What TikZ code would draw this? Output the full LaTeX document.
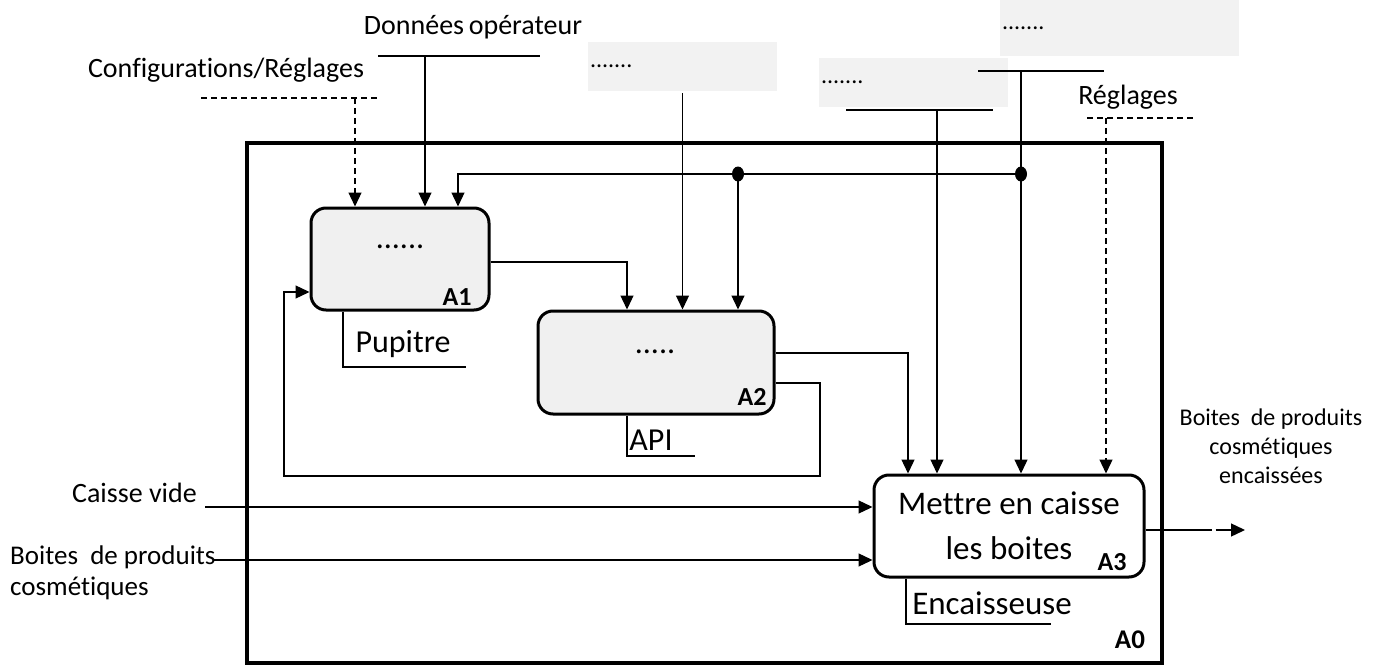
\documentclass[tikz,border=0pt]{standalone}
\usepackage{fontspec}
\setmainfont{Carlito}[Ligatures=NoCommon]
\usepackage{xcolor}
\usepackage{tikz}
\usetikzlibrary{arrows.meta}
\definecolor{boxgray}{HTML}{F0F0F0}
\definecolor{notegray}{HTML}{F2F2F2}

\begin{document}
\begin{tikzpicture}[x=1pt,y=-1pt,
  act/.style={draw,line width=3pt,rounded corners=15pt,inner sep=0pt},
  note/.style={fill=notegray,inner sep=2pt,align=left,font=\fontsize{24}{24}\selectfont},
  lbl/.style={inner sep=0pt,font=\fontsize{28}{28}\selectfont},
  mech/.style={inner sep=0pt,font=\fontsize{32}{32}\selectfont},
  tag/.style={inner sep=0pt,font=\bfseries\fontsize{26}{26}\selectfont},
  ln/.style={line width=1.3pt},
  dsh/.style={line width=1.3pt,dash pattern=on 6pt off 4pt},
  arr/.style={line width=1.3pt,-{Triangle[length=14pt,width=13pt]}}]
  \useasboundingbox (0,0) rectangle (1381,666);

  % frame and activities
  \node[draw,line width=4pt,minimum width=915pt,minimum height=520pt,inner sep=0pt]
    (A0) at (704.5,403) {};
  \node[act,fill=boxgray,minimum width=178pt,minimum height=102pt] (A1) at (400,259) {};
  \node[act,fill=boxgray,minimum width=236pt,minimum height=103pt] (A2) at (656,362.5) {};
  \node[act,fill=white,minimum width=270pt,minimum height=102pt,align=center,
    font=\fontsize{33}{45}\selectfont] (A3) at (1009,526) {Mettre en caisse\\les boites};
  \node[mech] (a1dots) at (400,247) {......};
  \node[mech] (a2dots) at (655,352) {.....};
  \node[tag] (a1tag) at (457,297) {A1};
  \node[tag] (a2tag) at (752,397) {A2};
  \node[tag] (a3tag) at (1112,562) {A3};
  \node[tag,font=\bfseries\fontsize{27}{27}\selectfont] (a0tag) at (1130,640) {A0};

  % controls
  \node[lbl] (cfg) at (226,70) {Configurations/Réglages};
  \draw[dsh] (201,98) -- (380,98);
  \coordinate (cfgc) at (355,98);
  \draw[arr,dsh] (cfgc) -- (cfgc |- A1.north);

  \node[lbl] (don) at (473,27) {Données\,opérateur};
  \draw[ln] (378,56) -- (540,56);
  \coordinate (donc) at (425,56);
  \draw[arr] (donc) -- (donc |- A1.north);

  \node[note,minimum width=189pt,minimum height=49pt,text width=185pt] (note1) at (682.5,66.5) {.......};
  \node[note,minimum width=189pt,minimum height=49pt,text width=185pt] (note2) at (913.5,82.5) {.......};
  \node[note,minimum width=239pt,minimum height=56pt,text width=235pt] (note3) at (1119.5,28) {.......};
  \draw[arr] ([yshift=-2pt]note1.south) -- (note1.south |- A2.north);

  \draw[ln] (846,110) -- (993,110);
  \coordinate (n2c) at (937,110);
  \draw[arr] (n2c) -- (n2c |- A3.north);

  \draw[ln] (978,71) -- (1104,71);
  \coordinate (n3c) at (1021,71);
  \draw[arr] (n3c) -- (n3c |- A3.north);
  \coordinate (j1) at (1021,174);
  \coordinate (j2) at (738,174);
  \coordinate (a1c) at (458,174);
  \draw[arr] (j1) -- (a1c) -- (a1c |- A1.north);
  \draw[arr] (j2) -- (j2 |- A2.north);
  \fill (j1) ellipse [x radius=6pt,y radius=7.5pt];
  \fill (j2) ellipse [x radius=6pt,y radius=7.5pt];

  \node[lbl] (reg) at (1128,97) {Réglages};
  \draw[dsh] (1087,118) -- (1194,118);
  \coordinate (regc) at (1106,118);
  \draw[arr,dsh] (regc) -- (regc |- A3.north);

  % flows between activities
  \draw[arr] ([yshift=-3pt]A1.east) -| ([xshift=-29pt]A2.north);
  \draw[arr] ([yshift=9.5pt]A2.east) -| ([xshift=-101pt]A3.north);
  \coordinate (fbR) at (820,476);
  \coordinate (fbL) at (284,292);
  \draw[arr] ([yshift=-20.5pt]A2.east) -| (fbR) -| (fbL) -- (fbL -| A1.west);

  % mechanisms
  \coordinate (pup) at (343,367);
  \draw[ln] (pup |- A1.south) -- (pup) -- (466,367);
  \node[mech] (pupl) at (403,344) {Pupitre};
  \coordinate (api) at (627,456);
  \draw[ln] (api |- A2.south) -- (api) -- (695,456);
  \node[mech] (apil) at (651,440) {API};
  \coordinate (enc) at (906,624);
  \draw[ln] (enc |- A3.south) -- (enc) -- (1051,624);
  \node[mech,font=\fontsize{33}{33}\selectfont] (encl) at (992,603) {Encaisseuse};

  % inputs and output
  \node[lbl,anchor=east] (cv) at (197,493) {Caisse vide};
  \coordinate (cvs) at (205,507);
  \draw[arr] (cvs) -- (cvs -| A3.west);
  \node[lbl,anchor=west,align=left,font=\fontsize{27}{31}\selectfont] (bp) at (10,572.5)
    {Boites~~de produits\\cosmétiques};
  \coordinate (bps) at (213,560);
  \draw[arr] (bps) -- (bps -| A3.west);

  \node[lbl,align=center,font=\fontsize{24}{29}\selectfont] (outl) at (1271,446)
    {Boites~~de produits\\cosmétiques\\encaissées};
  \coordinate (out) at (1245,530);
  \draw[arr,dash pattern=on 66pt off 4pt on 60pt] ([yshift=-4pt]A3.east) -- (out);

\end{tikzpicture}
\end{document}
